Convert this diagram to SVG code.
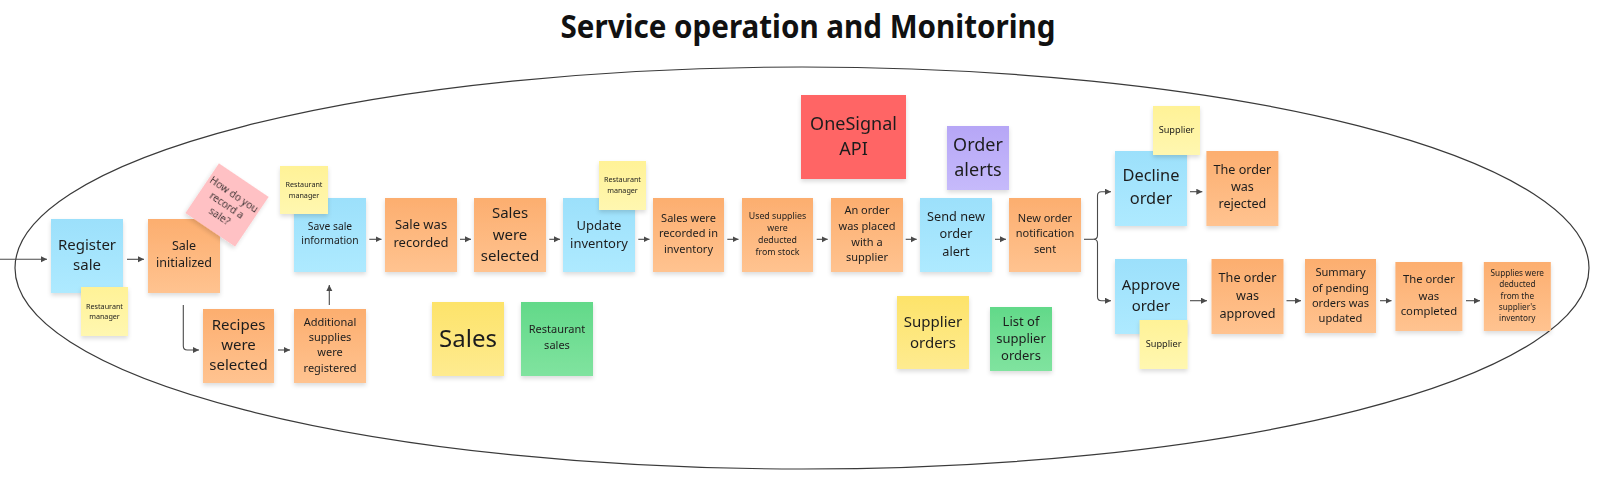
<svg xmlns="http://www.w3.org/2000/svg" width="1617" height="479" viewBox="0 0 1617 479">
<style>
text{font-family:"Noto Sans","Open Sans","DejaVu Sans",sans-serif;fill:#1e1e1e;text-anchor:middle}
.title{font-weight:bold;font-size:33px;fill:#111}
.note{filter:url(#sh)}
.or{fill:url(#gOr)}
.bl{fill:url(#gBl)}
.ly{fill:url(#gLy)}
.sy{fill:url(#gSy)}
.gr{fill:url(#gGr)}
.rd{fill:#ff6565}
.pu{fill:url(#gPu)}
.pk{fill:#ffc1c4}
.c{fill:none;stroke:#4a4a4a;stroke-width:1.1;marker-end:url(#ah)}
.cn{fill:none;stroke:#4a4a4a;stroke-width:1.1}
</style>
<defs>
<filter id="sh" x="-20%" y="-20%" width="140%" height="150%"><feDropShadow dx="0" dy="2.5" stdDeviation="2" flood-color="#000" flood-opacity="0.14"/></filter>
<linearGradient id="gOr" x1="0" y1="0" x2="0" y2="1"><stop offset="0" stop-color="#fcae6f"/><stop offset="1" stop-color="#ffc390"/></linearGradient>
<linearGradient id="gBl" x1="0" y1="0" x2="0" y2="1"><stop offset="0" stop-color="#9ce0fb"/><stop offset="1" stop-color="#aeeaff"/></linearGradient>
<linearGradient id="gLy" x1="0" y1="0" x2="0" y2="1"><stop offset="0" stop-color="#fff297"/><stop offset="1" stop-color="#fff7b0"/></linearGradient>
<linearGradient id="gSy" x1="0" y1="0" x2="0" y2="1"><stop offset="0" stop-color="#fde36a"/><stop offset="1" stop-color="#feeb90"/></linearGradient>
<linearGradient id="gGr" x1="0" y1="0" x2="0" y2="1"><stop offset="0" stop-color="#62d989"/><stop offset="1" stop-color="#80e39f"/></linearGradient>
<linearGradient id="gPu" x1="0" y1="0" x2="0" y2="1"><stop offset="0" stop-color="#b6a6f6"/><stop offset="1" stop-color="#c6bafb"/></linearGradient>
<marker id="ah" markerUnits="userSpaceOnUse" markerWidth="7" markerHeight="7" refX="6" refY="3" orient="auto"><path d="M0,0 L6,3 L0,6 z" fill="#4a4a4a"/></marker>
</defs>
<rect width="1617" height="479" fill="#fff"/>
<text class="title" x="808" y="38" textLength="495" lengthAdjust="spacingAndGlyphs">Service operation and Monitoring</text>
<g id="boundary"><ellipse cx="802" cy="268" rx="787" ry="201" fill="none" stroke="#3a3a3a" stroke-width="1.2"/></g>

<g id="connectors">
<path class="c" d="M0,259.3 H47"/>
<path class="c" d="M127,259.3 H144"/>
<path class="c" d="M183.3,305 V346 Q183.3,350 187.3,350 H199"/>
<path class="c" d="M278,350 H290"/>
<path class="c" d="M329.3,305 V285"/>
<path class="c" d="M369.3,239.3 H381.5"/>
<path class="c" d="M460,239.3 H471"/>
<path class="c" d="M549.3,239.3 H560"/>
<path class="c" d="M638.3,239.3 H649.5"/>
<path class="c" d="M727.3,239.3 H738.5"/>
<path class="c" d="M816.7,239.3 H827.7"/>
<path class="c" d="M905.7,239.3 H916.7"/>
<path class="c" d="M995,239.3 H1006"/>
<path class="cn" d="M1084,239.3 H1093.5"/>
<path class="c" d="M1093.5,239.3 Q1097.5,239.3 1097.5,235.3 V195.7 Q1097.5,191.7 1101.5,191.7 H1111"/>
<path class="c" d="M1093.5,239.3 Q1097.5,239.3 1097.5,243.3 V296.7 Q1097.5,300.7 1101.5,300.7 H1111"/>
<path class="c" d="M1190,191.7 H1202.3"/>
<path class="c" d="M1190,300.7 H1207"/>
<path class="c" d="M1286.5,300.7 H1301"/>
<path class="c" d="M1380,300.7 H1391.5"/>
<path class="c" d="M1466,300.7 H1480"/>
</g>

<g id="register-sale" class="note"><rect class="bl" x="51" y="219" width="72" height="74"/><text font-size="15" x="87"><tspan x="87" y="249.5">Register</tspan><tspan x="87" y="270.2">sale</tspan></text></g>
<g id="role-register" class="note"><rect class="ly" x="81" y="287" width="47" height="49"/><text font-size="7.2"><tspan x="104.5" y="308.5">Restaurant</tspan><tspan x="104.5" y="318.5">manager</tspan></text></g>
<g id="sale-initialized" class="note"><rect class="or" x="148" y="219" width="72" height="74"/><text font-size="12.5"><tspan x="184" y="250.4">Sale</tspan><tspan x="184" y="267">initialized</tspan></text></g>
<g id="question" class="note" transform="translate(227,205) rotate(34)"><rect class="pk" x="-30" y="-30" width="60" height="60"/><text font-size="10" fill="#333"><tspan x="0" y="-9.5">How do you</tspan><tspan x="0" y="3.5">record a</tspan><tspan x="0" y="16.5">sale?</tspan></text></g>
<g id="recipes-selected" class="note"><rect class="or" x="203" y="309" width="71" height="74"/><text font-size="15"><tspan x="238.5" y="329.5">Recipes</tspan><tspan x="238.5" y="350.2">were</tspan><tspan x="238.5" y="370.2">selected</tspan></text></g>
<g id="additional-supplies" class="note"><rect class="or" x="294" y="309" width="72" height="74"/><text font-size="11"><tspan x="330" y="325.6">Additional</tspan><tspan x="330" y="340.6">supplies</tspan><tspan x="330" y="356.3">were</tspan><tspan x="330" y="371.6">registered</tspan></text></g>
<g id="save-sale" class="note"><rect class="bl" x="294" y="198" width="72" height="74"/><text font-size="10.3"><tspan x="330" y="230.1">Save sale</tspan><tspan x="330" y="244.1">information</tspan></text></g>
<g id="role-save" class="note"><rect class="ly" x="280" y="166" width="48" height="48"/><text font-size="7.2"><tspan x="304" y="186.5">Restaurant</tspan><tspan x="304" y="197.5">manager</tspan></text></g>
<g id="sale-recorded" class="note"><rect class="or" x="385" y="198" width="72" height="74"/><text font-size="13"><tspan x="421" y="229.2">Sale was</tspan><tspan x="421" y="247.2">recorded</tspan></text></g>
<g id="sales-selected" class="note"><rect class="or" x="474" y="198" width="72" height="74"/><text font-size="15"><tspan x="510" y="217.8">Sales</tspan><tspan x="510" y="239.5">were</tspan><tspan x="510" y="260.5">selected</tspan></text></g>
<g id="update-inventory" class="note"><rect class="bl" x="563" y="198" width="72" height="74"/><text font-size="13"><tspan x="599" y="229.6">Update</tspan><tspan x="599" y="247.9">inventory</tspan></text></g>
<g id="role-update" class="note"><rect class="ly" x="599" y="161" width="47" height="49"/><text font-size="7.2"><tspan x="622.5" y="181.5">Restaurant</tspan><tspan x="622.5" y="192.9">manager</tspan></text></g>
<g id="sales-recorded-inventory" class="note"><rect class="or" x="653" y="198" width="71" height="74"/><text font-size="11"><tspan x="688.5" y="222.3">Sales were</tspan><tspan x="688.5" y="237.3">recorded in</tspan><tspan x="688.5" y="253.3">inventory</tspan></text></g>
<g id="sales-label" class="note"><rect class="sy" x="432" y="302" width="72" height="74"/><text font-size="24"><tspan x="468" y="346.7">Sales</tspan></text></g>
<g id="restaurant-sales" class="note"><rect class="gr" x="521" y="302" width="72" height="74"/><text font-size="11"><tspan x="557" y="333.3">Restaurant</tspan><tspan x="557" y="349.3">sales</tspan></text></g>
<g id="used-supplies" class="note"><rect class="or" x="742" y="198" width="71" height="74"/><text font-size="8.8"><tspan x="777.5" y="219.3">Used supplies</tspan><tspan x="777.5" y="231">were</tspan><tspan x="777.5" y="243">deducted</tspan><tspan x="777.5" y="254.6">from stock</tspan></text></g>
<g id="order-placed" class="note"><rect class="or" x="831" y="198" width="72" height="74"/><text font-size="11"><tspan x="867" y="214.3">An order</tspan><tspan x="867" y="230">was placed</tspan><tspan x="867" y="245.6">with a</tspan><tspan x="867" y="260.6">supplier</tspan></text></g>
<g id="send-alert" class="note"><rect class="bl" x="920" y="198" width="72" height="74"/><text font-size="12.7"><tspan x="956" y="220.5">Send new</tspan><tspan x="956" y="238.1">order</tspan><tspan x="956" y="255.5">alert</tspan></text></g>
<g id="notification-sent" class="note"><rect class="or" x="1009" y="198" width="72" height="74"/><text font-size="11"><tspan x="1045" y="222.3">New order</tspan><tspan x="1045" y="237.3">notification</tspan><tspan x="1045" y="253.3">sent</tspan></text></g>
<g id="onesignal" class="note"><rect class="rd" x="801" y="95" width="105" height="84"/><text font-size="18"><tspan x="853.5" y="130.4">OneSignal</tspan><tspan x="853.5" y="155.4">API</tspan></text></g>
<g id="order-alerts" class="note"><rect class="pu" x="947" y="126" width="62" height="64"/><text font-size="18"><tspan x="978" y="151">Order</tspan><tspan x="978" y="176">alerts</tspan></text></g>
<g id="supplier-orders" class="note"><rect class="sy" x="897" y="296" width="72" height="73"/><text font-size="15"><tspan x="933" y="326.8">Supplier</tspan><tspan x="933" y="347.8">orders</tspan></text></g>
<g id="list-supplier-orders" class="note"><rect class="gr" x="990" y="307" width="62" height="64"/><text font-size="13"><tspan x="1021" y="325.6">List of</tspan><tspan x="1021" y="343.2">supplier</tspan><tspan x="1021" y="360.2">orders</tspan></text></g>
<g id="decline-order" class="note"><rect class="bl" x="1115" y="151" width="72" height="75"/><text font-size="16.4"><tspan x="1151" y="180.5">Decline</tspan><tspan x="1151" y="203.6">order</tspan></text></g>
<g id="role-decline" class="note"><rect class="ly" x="1153" y="106" width="47" height="49"/><text font-size="9.2"><tspan x="1176.5" y="133">Supplier</tspan></text></g>
<g id="order-rejected" class="note"><rect class="or" x="1206.4" y="151" width="72" height="75"/><text font-size="12.6"><tspan x="1242.4" y="173.7">The order</tspan><tspan x="1242.4" y="191.2">was</tspan><tspan x="1242.4" y="208.4">rejected</tspan></text></g>
<g id="approve-order" class="note"><rect class="bl" x="1115" y="259" width="72" height="75"/><text font-size="14.9"><tspan x="1151" y="290.4">Approve</tspan><tspan x="1151" y="311.2">order</tspan></text></g>
<g id="role-approve" class="note"><rect class="ly" x="1139.6" y="320" width="48" height="49"/><text font-size="9.2"><tspan x="1163.6" y="347">Supplier</tspan></text></g>
<g id="order-approved" class="note"><rect class="or" x="1211.5" y="259" width="72" height="75"/><text font-size="12.6"><tspan x="1247.5" y="282.4">The order</tspan><tspan x="1247.5" y="299.8">was</tspan><tspan x="1247.5" y="317.6">approved</tspan></text></g>
<g id="summary-updated" class="note"><rect class="or" x="1305" y="259" width="71" height="74"/><text font-size="11.1"><tspan x="1340.5" y="275.5">Summary</tspan><tspan x="1340.5" y="291.5">of pending</tspan><tspan x="1340.5" y="306.7">orders was</tspan><tspan x="1340.5" y="321.9">updated</tspan></text></g>
<g id="order-completed" class="note"><rect class="or" x="1395.4" y="262" width="67" height="69"/><text font-size="11.3"><tspan x="1428.9" y="283.3">The order</tspan><tspan x="1428.9" y="299.6">was</tspan><tspan x="1428.9" y="314.5">completed</tspan></text></g>
<g id="supplies-deducted" class="note"><rect class="or" x="1483.8" y="262" width="67" height="69"/><text font-size="8.2"><tspan x="1517.3" y="275.7">Supplies were</tspan><tspan x="1517.3" y="287.4">deducted</tspan><tspan x="1517.3" y="298.6">from the</tspan><tspan x="1517.3" y="309.9">supplier's</tspan><tspan x="1517.3" y="321">inventory</tspan></text></g>
</svg>
